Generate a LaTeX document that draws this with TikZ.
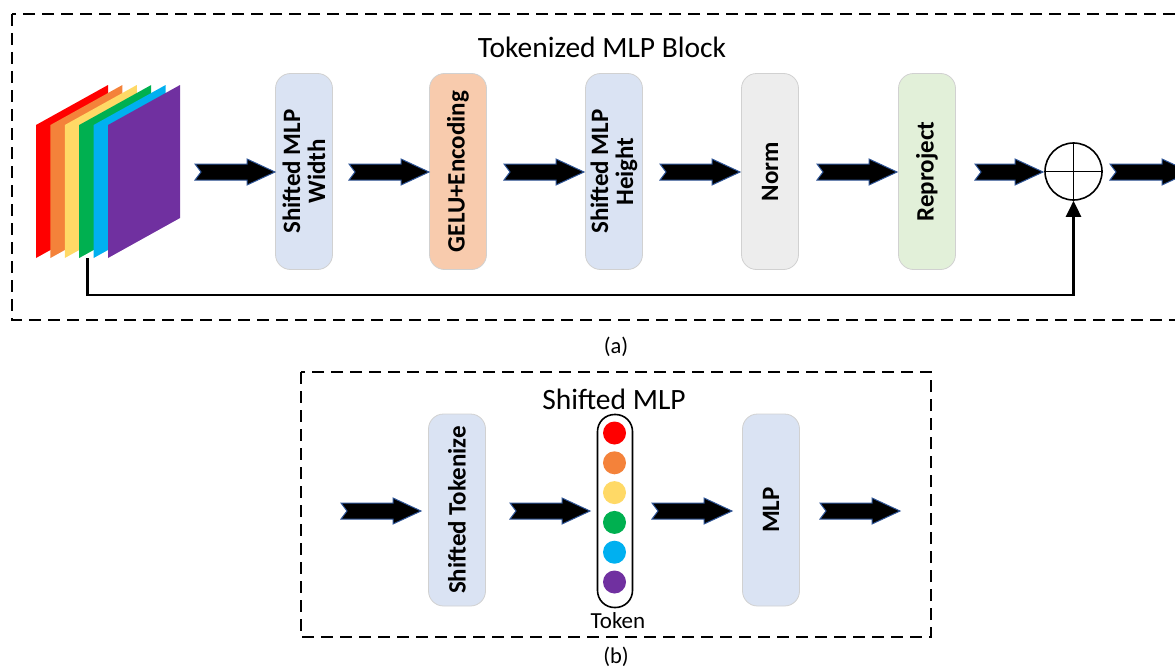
\documentclass[tikz,border=0pt]{standalone}
\usepackage{fontspec}
\setmainfont{Carlito}
\usetikzlibrary{arrows.meta,calc}
\definecolor{lav}{HTML}{DAE3F3}
\definecolor{peach}{HTML}{F8CBAD}
\definecolor{lgray}{HTML}{EDEDED}
\definecolor{lgreen}{HTML}{E2F0D9}
\definecolor{aborder}{HTML}{2F5597}
\definecolor{cred}{HTML}{FF0000}
\definecolor{corange}{HTML}{F4823A}
\definecolor{cyellow}{HTML}{FFD966}
\definecolor{cgreen}{HTML}{00B050}
\definecolor{cblue}{HTML}{00B0F0}
\definecolor{cpurple}{HTML}{7030A0}
\tikzset{
  frame/.style={draw=black, line width=1.6pt, dash pattern=on 12pt off 7pt},
  blk/.style={draw=black!18, line width=0.8pt, rounded corners=15pt, minimum width=57pt, minimum height=196pt, inner sep=0pt},
  blktext/.style={font=\fontsize{25}{25}\selectfont\bfseries, align=center, rotate=90},
  barrowst/.style={fill=black, draw=aborder, line width=1pt, line join=miter},
  titletext/.style={font=\fontsize{29.5}{31}\selectfont},
  captext/.style={font=\fontsize{22.5}{25}\selectfont},
}
\newcommand\barrow[3]{%
  \draw[barrowst] (#1,#3-8) -- (#2-28,#3-8) -- (#2-28,#3-13) -- (#2,#3) -- (#2-28,#3+13) -- (#2-28,#3+8) -- (#1,#3+8) -- (#1+6,#3) -- cycle;}
\begin{document}
\begin{tikzpicture}[x=1pt,y=-1pt]
\useasboundingbox (0,0) rectangle (1175,669);
\clip (0,0) rectangle (1175,669);
% ---------- (a) ----------
\draw[frame] (12,14) rectangle (1190,320);
\node[titletext] (ta) at (602,47) {Tokenized MLP Block};
% stacked feature maps
\foreach \c [count=\i from 0] in {cred,corange,cyellow,cgreen,cblue,cpurple}{
  \pgfmathsetmacro\xo{36+14.4*\i}
  \fill[\c] (\xo,258) -- (\xo,125) -- (\xo+72,85) -- (\xo+72,218) -- cycle;
}
\coordinate (skipstart) at (87.5,258);
\node[blk, fill=lav] (b1) at (304,171.5) {};
\node[blktext] at (b1) {Shifted MLP\\Width};
\node[blk, fill=peach] (b2) at (458,171.5) {};
\node[blktext] at (b2) {GELU+Encoding};
\node[blk, fill=lav] (b3) at (614,171.5) {};
\node[blktext] at (b3) {Shifted MLP\\Height};
\node[blk, fill=lgray] (b4) at (770,171.5) {};
\node[blktext] at (b4) {Norm};
\node[blk, fill=lgreen] (b5) at (927,171.5) {};
\node[blktext] at (b5) {Reproject};
\node[circle, draw=black, line width=1.6pt, minimum size=57pt, inner sep=0pt] (plus) at (1073.5,171.5) {};
\draw[line width=1.6pt] (plus.north) -- (plus.south) (plus.west) -- (plus.east);
\barrow{195}{275}{172}
\barrow{349}{429}{172}
\barrow{504}{584}{172}
\barrow{660}{740}{172}
\barrow{817}{897}{172}
\barrow{975}{1043}{172}
\barrow{1110}{1190}{172}
\draw[line width=2.6pt, -{Triangle[width=15pt,length=16pt]}] (skipstart) |- (1073.5,295) -- (plus.south);
\node[captext] (la) at (616,347) {(a)};
% ---------- (b) ----------
\draw[frame] (301,372) rectangle (931,637);
\node[titletext] (tb) at (614,399) {Shifted MLP};
\node[blk, fill=lav, minimum height=192pt] (s1) at (457,510) {};
\node[blktext] at (s1) {Shifted Tokenize};
\node[blk, fill=lav, minimum height=192pt] (s2) at (771,510) {};
\node[blktext] at (s2) {MLP};
\node[draw=black, line width=1.6pt, rounded corners=17pt, minimum width=35pt, minimum height=193pt, inner sep=0pt] (tok) at (615,511) {};
\foreach \c [count=\i from 0] in {cred,corange,cyellow,cgreen,cblue,cpurple}{
  \fill[\c] (614.5,433+29.8*\i) circle (11.5);
}
\node[font=\fontsize{23}{25}\selectfont] (tl) at (618,621) {Token};
\barrow{341}{421}{511}
\barrow{510}{590}{511}
\barrow{652}{732}{511}
\barrow{820}{900}{511}
\node[captext] (lb) at (616,657) {(b)};
\end{tikzpicture}
\end{document}
